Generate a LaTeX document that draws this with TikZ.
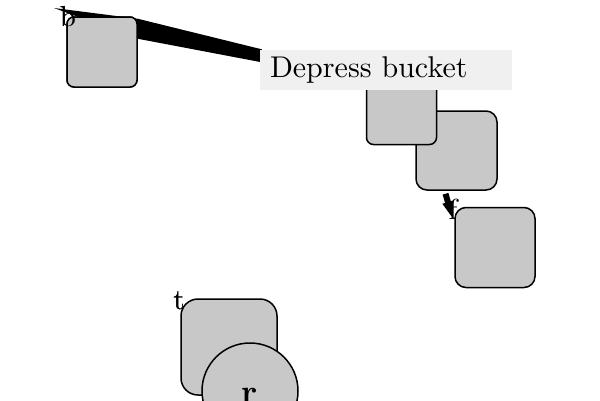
\documentclass[tikz,border=0pt]{standalone}
\usepackage{graphicx}
\usetikzlibrary{arrows.meta}
\definecolor{boxgray}{RGB}{200,200,200}
\definecolor{labelbg}{RGB}{240,240,240}
\begin{document}
\begin{tikzpicture}[x=1pt,y=-1pt,
  gbox/.style={draw=black,line width=1.5pt,fill=boxgray,rectangle,inner sep=0pt},
  gcirc/.style={draw=black,line width=1.5pt,fill=boxgray,circle,inner sep=0pt,minimum size=96pt},
  smalllab/.style={inner sep=0pt},
  biglab/.style={fill=labelbg,inner sep=0pt,minimum width=252pt,minimum height=40pt,text width=232pt,align=left},
  wedge/.style={fill=black},
  medium/.style={line width=6pt,-{Triangle[length=18pt 0 0,width=10pt 0 0]}},
  thin/.style={line width=1pt}]
\useasboundingbox (0,0) rectangle (600,400);
% label nodes
\node[biglab] (dep) at (386,70) {\raisebox{-1.5pt}{\scalebox{3.0}{Depress bucket}}};
\node[smalllab] (b) at (68,17) {\scalebox{2.9}{b}};
\node[smalllab] (f) at (453,209) {\scalebox{2.9}{f}};
\node[smalllab] (t) at (179,301) {\scalebox{2.9}{t}};
\node[gbox,minimum width=70pt,minimum height=70pt,rounded corners=7pt] (A) at (102,52) {};
\coordinate (btip) at ([shift={(-14,-9)}]b.center);
% connectors behind boxes
\fill[wedge] (btip) -- ([shift={(0,2.5)}]A.north east)
   -- ([shift={(2,-0.5)}]dep.north west) -- ([shift={(2,12.5)}]dep.north west)
   -- ([shift={(0,22.5)}]A.north east) -- cycle;
\draw[thin] (t) -- (204,316);
% boxes
\node[gbox,minimum width=70pt,minimum height=70pt,rounded corners=7pt] at (A) {};
\node[gbox,minimum width=81pt,minimum height=79pt,rounded corners=11pt] (C) at (456.5,150.5) {};
\coordinate (Cs) at ([xshift=-11pt,yshift=-3pt]C.south);
\draw[medium] (Cs) -- (f.south);
\node[gbox,minimum width=70pt,minimum height=70pt,rounded corners=7pt] (B) at (401.5,109.5) {};
\node[gbox,minimum width=80pt,minimum height=80pt,rounded corners=11pt] (D) at (495,247.5) {};
\node[gbox,minimum width=96pt,minimum height=96pt,rounded corners=17pt] (E) at (229,347) {};
\node[gcirc] (R) at (250,391) {\raisebox{-12pt}[0pt][0pt]{\scalebox{3.4}{\bfseries r}}};
% labels on top
\node[biglab] at (dep) {\raisebox{-1.5pt}{\scalebox{3.0}{Depress bucket}}};
\node[smalllab] at (b) {\scalebox{2.9}{b}};
\node[smalllab] at (t) {\scalebox{2.9}{t}};
\end{tikzpicture}
\end{document}
